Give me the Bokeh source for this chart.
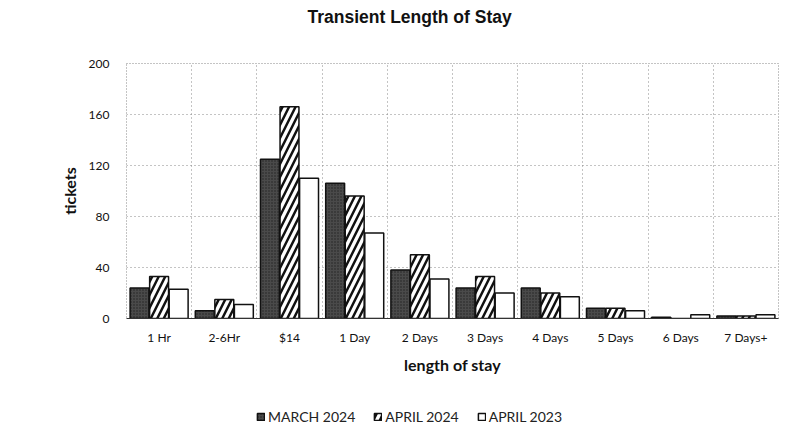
from bokeh.plotting import figure
from bokeh.layouts import column
from bokeh.models import ColumnDataSource, FactorRange, FixedTicker, Legend, LegendItem, Range1d, Title
from bokeh.transform import dodge
from bokeh.embed import file_html
from bokeh.resources import INLINE

categories = ["1 Hr", "2-6Hr", "$14", "1 Day", "2 Days", "3 Days", "4 Days", "5 Days", "6 Days", "7 Days+"]
march_2024 = [24, 6, 125, 106, 38, 24, 24, 8, 1, 2]
april_2024 = [33, 15, 166, 96, 50, 33, 20, 8, 0, 2]
april_2023 = [23, 11, 110, 67, 31, 20, 17, 6, 3, 3]
y_ticks = [0, 40, 80, 120, 160, 200]
series_names = ["MARCH 2024", "APRIL 2024", "APRIL 2023"]
series_cols = ["m24", "a24", "a23"]
offsets = [-0.3, 0.0, 0.3]

styles = [
    dict(fill_color="#4a4a4a", line_color="#111111", line_width=1.5,
         hatch_pattern="dot", hatch_color="#222222", hatch_scale=3),
    dict(fill_color="white", line_color="#111111", line_width=1.5,
         hatch_pattern="right_diagonal_line", hatch_color="#111111", hatch_scale=13, hatch_weight=2.5),
    dict(fill_color="white", line_color="#111111", line_width=1.5),
]

src = ColumnDataSource(dict(cat=categories, m24=march_2024, a24=april_2024, a23=april_2023))

p = figure(width=793, height=405, x_range=FactorRange(*categories), y_range=Range1d(0, 200),
           output_backend="svg", toolbar_location=None,
           min_border_left=126, min_border_right=15, min_border_top=63, min_border_bottom=87)

p.title.text = "Transient Length of Stay"
p.title.align = "left"
p.title.offset = 181
p.title.standoff = 4
p.title.text_font = "Liberation Sans"
p.title.text_font_size = "17.5px"
p.title.text_font_style = "bold"
p.title.text_color = "#111111"
p.add_layout(Title(text=" ", text_font_size="21px"), "above")

for col, off, st in zip(series_cols, offsets, styles):
    p.vbar(x=dodge("cat", off, range=p.x_range), top=col, width=0.29, source=src, **st)

# axes
p.yaxis.ticker = FixedTicker(ticks=y_ticks)
p.yaxis.axis_line_color = None
p.yaxis.major_tick_line_color = None
p.yaxis.major_tick_out = 0
p.yaxis.minor_tick_line_color = None
p.yaxis.major_label_text_font = "Lato"
p.yaxis.major_label_text_font_size = "12px"
p.yaxis.major_label_text_color = "#111111"
p.yaxis.major_label_standoff = 17
p.yaxis.axis_label = "tickets"
p.yaxis.axis_label_text_font = "Lato"
p.yaxis.axis_label_text_font_size = "16px"
p.yaxis.axis_label_text_font_style = "bold"
p.yaxis.axis_label_text_color = "#111111"
p.yaxis.axis_label_standoff = 7

p.xaxis.axis_line_color = "#333333"
p.xaxis.major_tick_line_color = None
p.xaxis.major_tick_out = 0
p.xaxis.minor_tick_line_color = None
p.xaxis.major_label_text_font = "Lato"
p.xaxis.major_label_text_font_size = "12px"
p.xaxis.major_label_text_color = "#111111"
p.xaxis.major_label_standoff = 11
p.xaxis.axis_label = "length of stay"
p.xaxis.axis_label_text_font = "Lato"
p.xaxis.axis_label_text_font_size = "16px"
p.xaxis.axis_label_text_font_style = "bold"
p.xaxis.axis_label_text_color = "#111111"
p.xaxis.axis_label_standoff = 7

# grid
p.ygrid.ticker = FixedTicker(ticks=y_ticks)
p.ygrid.grid_line_color = "#888888"
p.ygrid.grid_line_dash = "1 3"
p.xgrid.ticker = FixedTicker(ticks=list(range(1, len(categories))))
p.xgrid.grid_line_color = "#888888"
p.xgrid.grid_line_dash = "1 3"

p.outline_line_color = "#888888"
p.outline_line_dash = "1 2"

# legend strip below the chart (hidden copies of the bar renderers feed the legend)
lg = figure(width=793, height=20, x_range=FactorRange(*categories), y_range=Range1d(0, 200),
            output_backend="svg", toolbar_location=None,
            x_axis_location=None, y_axis_location=None,
            min_border_left=0, min_border_right=0, min_border_top=0, min_border_bottom=0)
lg.outline_line_color = None
lg.grid.visible = False
rs = []
for col, off, st in zip(series_cols, offsets, styles):
    r = lg.vbar(x=dodge("cat", off, range=lg.x_range), top=col, width=0.29, source=src, **st)
    r.visible = False
    rs.append(r)
legend = Legend(items=[LegendItem(label=n, renderers=[r]) for n, r in zip(series_names, rs)],
                orientation="horizontal", location=(130, 0),
                label_text_font="Lato", label_text_font_size="14px", label_text_color="#222222",
                glyph_width=9, glyph_height=9, spacing=18, padding=2, margin=0,
                label_standoff=3, border_line_color=None, background_fill_alpha=0)
lg.add_layout(legend, "center")

open("out.html", "w").write(file_html(column(p, lg, spacing=0), INLINE))
